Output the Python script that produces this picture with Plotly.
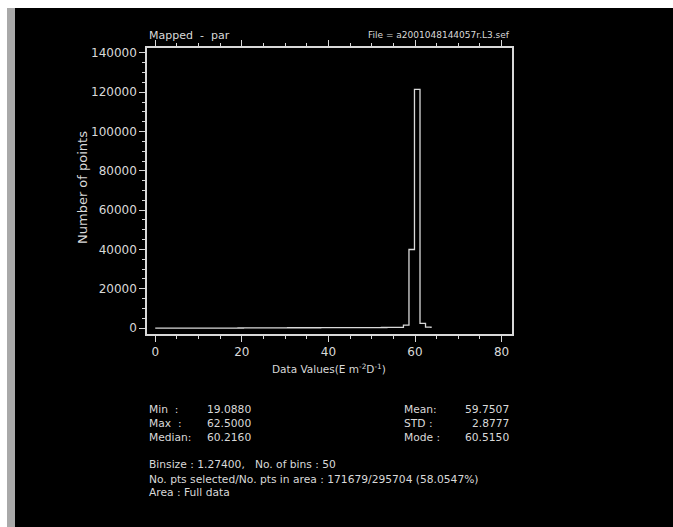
import plotly.graph_objects as go

# ---- data ----
bin_start = 0.0
bin_size = 1.274
counts = [0, 0, 0, 0, 0, 0, 0, 0, 0, 0,
          0, 0, 0, 0, 0, 60, 80, 90, 110, 120,
          130, 140, 150, 160, 170, 170, 180, 180, 190, 190,
          200, 200, 210, 210, 220, 230, 240, 250, 260, 270,
          280, 300, 320, 350, 400, 1500, 40000, 121500, 2400, 500]

stats_left_labels = ["Min  :", "Max  :", "Median:"]
stats_left_values = ["19.0880", "62.5000", "60.2160"]
stats_right_labels = ["Mean:", "STD :", "Mode :"]
stats_right_values = ["59.7507", "2.8777", "60.5150"]
footer_lines = ["Binsize : 1.27400,   No. of bins : 50",
                "No. pts selected/No. pts in area : 171679/295704 (58.0547%)",
                "Area : Full data"]
title_left = "Mapped  -  par"
title_right = "File = a2001048144057r.L3.sef"
x_title = "Data Values(E m<sup>-2</sup>D<sup>-1</sup>)"
y_title = "Number of points"

# ---- geometry (page pixel coords) ----
W, H = 673, 527
L, R, T, B = 147, 512, 48, 334
pw, ph = R - L, B - T


def px(x):
    return (x - L) / pw


def py(y):
    return (B - y) / ph


edges = [bin_start + i * bin_size for i in range(len(counts) + 1)]
ys = list(counts) + [0]

FG = "#d9d9d9"
FONT = "DejaVu Sans, sans-serif"

fig = go.Figure()
fig.add_trace(go.Scatter(x=edges, y=ys, mode="lines", line=dict(color=FG, width=1.3, shape="hv"),
                         hoverinfo="skip", showlegend=False))

fig.update_layout(
    width=W, height=H,
    margin=dict(l=L, r=W - R, t=T, b=H - B),
    paper_bgcolor="black", plot_bgcolor="black",
    font=dict(family=FONT, color=FG, size=11),
    xaxis=dict(range=[-1.9, 82.4], tickmode="linear", tick0=0, dtick=20,
               ticks="outside", ticklen=6, tickwidth=1, tickcolor=FG,
               minor=dict(dtick=5, ticks="outside", ticklen=3, tickcolor=FG),
               showline=True, linecolor=FG, linewidth=1.5, mirror="ticks",
               showgrid=False, zeroline=False, tickfont=dict(size=12, family=FONT, color=FG)),
    yaxis=dict(range=[-3000, 142500], tickmode="linear", tick0=0, dtick=20000,
               ticks="outside", ticklen=6, tickwidth=1, tickcolor=FG,
               minor=dict(dtick=5000, ticks="outside", ticklen=3, tickcolor=FG),
               showline=True, linecolor=FG, linewidth=1.5, mirror=True,
               showgrid=False, zeroline=False, tickformat="d",
               tickfont=dict(size=12, family=FONT, color=FG)),
)

# window frame: white band on top and left, grey strip at the left edge
shapes = [
    dict(type="rect", xref="paper", yref="paper", x0=px(0), x1=px(W), y0=py(8), y1=py(0),
         fillcolor="white", line=dict(width=0), layer="below"),
    dict(type="rect", xref="paper", yref="paper", x0=px(0), x1=px(7), y0=py(H), y1=py(0),
         fillcolor="white", line=dict(width=0), layer="below"),
    dict(type="rect", xref="paper", yref="paper", x0=px(7), x1=px(15), y0=py(H), y1=py(8),
         fillcolor="#a9a9a9", line=dict(width=0), layer="below"),
]
fig.update_layout(shapes=shapes)

ann = []


def add(text, x, y, xa="left", ya="middle", size=10.7, angle=0):
    ann.append(dict(text=text, x=px(x), y=py(y), xref="paper", yref="paper",
                    xanchor=xa, yanchor=ya, showarrow=False, textangle=angle,
                    font=dict(size=size, color=FG, family=FONT)))


add(title_left, 147, 35, size=11)
add(title_right, 512, 35, xa="right", size=9)
add(x_title, 329, 368, xa="center", size=10.5)
add(y_title, 82, 188, xa="center", size=13, angle=-90)

rows_y = [409, 423, 437]
for i in range(3):
    add(stats_left_labels[i], 147, rows_y[i])
    add(stats_left_values[i], 253, rows_y[i], xa="right")
    add(stats_right_labels[i], 402, rows_y[i])
    add(stats_right_values[i], 511, rows_y[i], xa="right")

for i, line in enumerate(footer_lines):
    add(line, 147, 465 + 14 * i)

fig.update_layout(annotations=ann)
fig.write_html(
    "out.html",
    config={"displayModeBar": False},
    post_script=("document.body.style.margin='0';"
                 "document.body.style.background='black';"
                 "document.documentElement.style.background='black';"
                 "document.documentElement.style.overflow='hidden';"),
)
